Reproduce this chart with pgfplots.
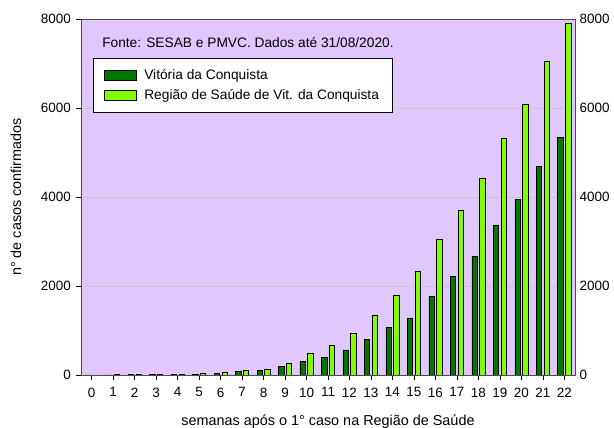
\documentclass[border=0pt]{standalone}
\usepackage{pgfplots}
\pgfplotsset{compat=1.18}
\usepackage{fontspec}
\setmainfont{Liberation Sans}
\definecolor{bgc}{HTML}{E0C8FF}
\definecolor{dkg}{HTML}{007800}
\definecolor{ltg}{HTML}{80FF00}
\begin{document}
\begin{tikzpicture}
\path[use as bounding box] (-60.75pt,-39.75pt) rectangle (399.75pt,281.25pt);
\begin{axis}[
  at={(0,0)}, anchor=south west,
  scale only axis, width=370.5pt, height=267pt,
  xmin=-0.5, xmax=22.5, ymin=0, ymax=8000,
  axis background/.style={fill=bgc},
  axis line style={draw=black!70},
  ybar, bar width=4pt,
  xtick={0,...,22}, ytick={0,2000,4000,6000,8000},
  tick align=outside, tick style={black, thin},
  xtick pos=bottom, ytick pos=left,
  major tick length=4pt,
  ymajorgrids, grid style={black!22},
  tick label style={font=\fontsize{10.1pt}{12pt}\selectfont},
  xticklabel style={yshift=-2pt},
  /pgf/number format/assume math mode=true,
  scaled y ticks=false,
  yticklabel style={/pgf/number format/1000 sep={}},
  xlabel={semanas após o 1° caso na Região de Saúde},
  ylabel={n° de casos confirmados},
  label style={font=\fontsize{10.8pt}{12pt}\selectfont},
  xlabel style={yshift=-6pt},
  ylabel style={yshift=8pt},
  legend style={at={(0.024,0.890)}, anchor=north west, draw=black, fill=white,
    font=\fontsize{10.3pt}{12pt}\selectfont, inner xsep=8pt, inner ysep=6pt,
    row sep=2pt},
  legend cell align=left,
  legend image code/.code={\draw[#1,draw=black] (0pt,-3.7pt) rectangle (24pt,3.7pt);},
]
\addplot[fill=dkg, draw=black, line width=0.4pt, bar shift=-2.9pt] coordinates {
(0,0) (1,5) (2,8) (3,12) (4,15) (5,20) (6,40) (7,85) (8,110) (9,190) (10,300) (11,400)
(12,566) (13,800) (14,1070) (15,1283) (16,1773) (17,2210) (18,2670) (19,3373)
(20,3941) (21,4689) (22,5338)};
\addplot[fill=ltg, draw=black, line width=0.4pt, bar shift=2.9pt] coordinates {
(0,0) (1,8) (2,12) (3,15) (4,20) (5,35) (6,60) (7,105) (8,135) (9,255) (10,480) (11,664)
(12,928) (13,1343) (14,1781) (15,2332) (16,3049) (17,3713) (18,4424) (19,5330)
(20,6077) (21,7060) (22,7905)};
\legend{\hspace{4pt}Vitória da Conquista, \hspace{4pt}Região de Saúde de Vit. da Conquista\hspace{7pt}}
\node[anchor=west, inner sep=0pt, font=\fontsize{10.3pt}{12pt}\selectfont] at (rel axis cs:0.0425,0.933) {Fonte: SESAB e PMVC. Dados até 31/08/2020.};
\end{axis}
\begin{axis}[
  at={(0,0)}, anchor=south west,
  scale only axis, width=370.5pt, height=267pt,
  xmin=-0.5, xmax=22.5, ymin=0, ymax=8000,
  axis x line=none, axis y line*=right,
  axis line style={draw=black!70},
  ytick={0,2000,4000,6000,8000},
  tick align=outside, tick style={black, thin}, major tick length=0pt,
  tick label style={font=\fontsize{10.1pt}{12pt}\selectfont},
  /pgf/number format/assume math mode=true,
  scaled y ticks=false,
  yticklabel style={/pgf/number format/1000 sep={}},
]
\addplot[draw=none] coordinates {(0,0)};
\end{axis}
\end{tikzpicture}
\end{document}
